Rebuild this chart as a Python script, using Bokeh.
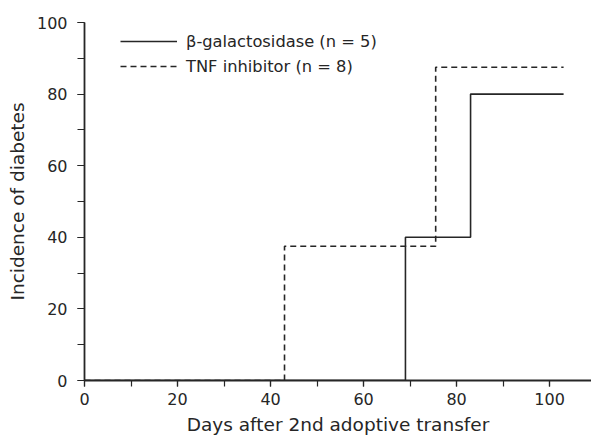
from bokeh.plotting import figure
from bokeh.models import Range1d, SingleIntervalTicker, Legend, LegendItem, ColumnDataSource
from bokeh.embed import file_html
from bokeh.resources import INLINE

# Data (days after 2nd adoptive transfer, incidence of diabetes %)
gal_days = [0, 69, 83, 103]
gal_incidence = [0, 40, 80, 80]
tnf_days = [0, 43, 75.5, 103]
tnf_incidence = [0, 37.5, 87.5, 87.5]
gal_label = "β-galactosidase (n = 5)"
tnf_label = "TNF inhibitor (n = 8)"

INK = "#262626"
FONT = "DejaVu Sans"

p = figure(width=591, height=437, output_backend="svg", toolbar_location=None,
           x_range=Range1d(0, 109), y_range=Range1d(0, 100),
           min_border_left=84, min_border_right=0, min_border_top=22, min_border_bottom=56)
p.outline_line_color = None
p.xgrid.visible = False
p.ygrid.visible = False
p.background_fill_color = "white"
p.border_fill_color = "white"

src_gal = ColumnDataSource(dict(x=gal_days, y=gal_incidence))
src_tnf = ColumnDataSource(dict(x=tnf_days, y=tnf_incidence))
r_gal = p.step("x", "y", source=src_gal, mode="after", line_color=INK, line_width=1.6)
r_tnf = p.step("x", "y", source=src_tnf, mode="after", line_color=INK, line_width=1.6,
               line_dash="6 4")

for ax, tick_out in ((p.xaxis[0], 6), (p.yaxis[0], 7)):
    ax.ticker = SingleIntervalTicker(interval=20, num_minor_ticks=2)
    ax.axis_line_color = INK
    ax.axis_line_width = 1.8
    ax.major_tick_line_color = INK
    ax.minor_tick_line_color = INK
    ax.major_tick_line_width = 1.2
    ax.minor_tick_line_width = 1.2
    ax.major_tick_in = 0
    ax.minor_tick_in = 0
    ax.major_tick_out = tick_out
    ax.minor_tick_out = tick_out
    ax.major_label_text_font = FONT
    ax.major_label_text_font_size = "16px"
    ax.major_label_text_color = INK
    ax.axis_label_text_font = FONT
    ax.axis_label_text_font_size = "18.5px"
    ax.axis_label_text_font_style = "normal"
    ax.axis_label_text_color = INK

p.xaxis.axis_label = "Days after 2nd adoptive transfer"
p.yaxis.axis_label = "Incidence of diabetes"
p.xaxis.major_label_standoff = 6
p.xaxis.axis_label_standoff = 6
p.yaxis.major_label_standoff = 10
p.yaxis.axis_label_standoff = 6

legend = Legend(items=[LegendItem(label=gal_label, renderers=[r_gal]),
                       LegendItem(label=tnf_label, renderers=[r_tnf])],
                location=(36, 304), orientation="vertical",
                glyph_width=57, glyph_height=20, label_height=20, spacing=5,
                label_standoff=9, padding=0, margin=0,
                border_line_color=None, background_fill_alpha=0,
                label_text_font=FONT, label_text_font_size="16.3px", label_text_color=INK)
p.add_layout(legend, "center")

open("out.html", "w").write(file_html(p, INLINE))
